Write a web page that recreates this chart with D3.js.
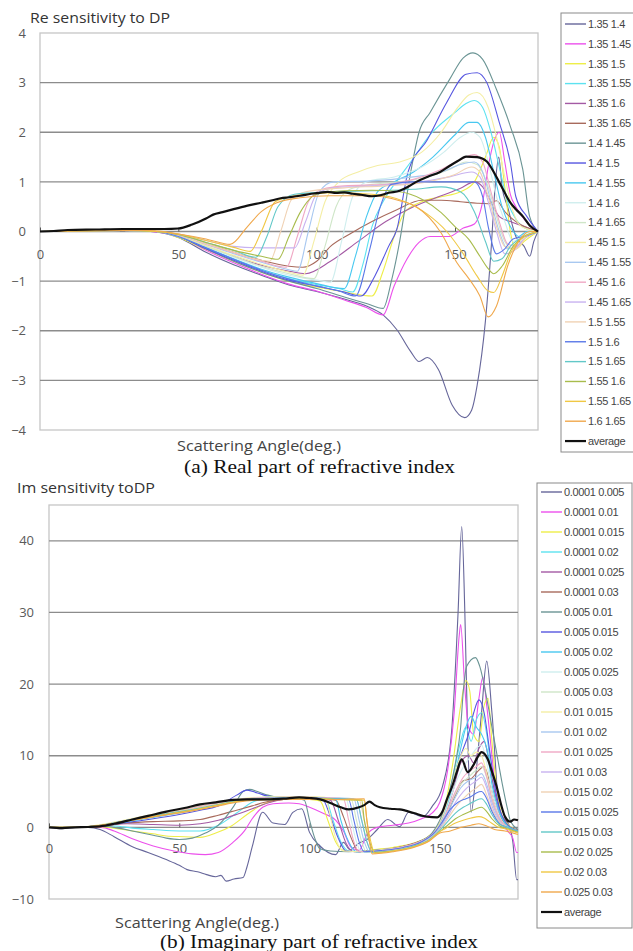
<!DOCTYPE html>
<html>
<head>
<meta charset="utf-8">
<script src="https://cdn.jsdelivr.net/npm/d3@7"></script>
<style>
  body { margin: 0; background: #fff; }
  svg { display: block; }
</style>
</head>
<body>
<svg id="chart" width="633" height="951"></svg>
<script>
// ---- shared x axis ----
const angleTicks = [0, 50, 100, 150];

// ---- series names ----
const reNames = ["1.35 1.4", "1.35 1.45", "1.35 1.5", "1.35 1.55", "1.35 1.6", "1.35 1.65",
  "1.4 1.45", "1.4 1.5", "1.4 1.55", "1.4 1.6", "1.4 1.65", "1.45 1.5", "1.45 1.55",
  "1.45 1.6", "1.45 1.65", "1.5 1.55", "1.5 1.6", "1.5 1.65", "1.55 1.6", "1.55 1.65",
  "1.6 1.65", "average"];
const imNames = ["0.0001 0.005", "0.0001 0.01", "0.0001 0.015", "0.0001 0.02", "0.0001 0.025",
  "0.0001 0.03", "0.005 0.01", "0.005 0.015", "0.005 0.02", "0.005 0.025", "0.005 0.03",
  "0.01 0.015", "0.01 0.02", "0.01 0.025", "0.01 0.03", "0.015 0.02", "0.015 0.025",
  "0.015 0.03", "0.02 0.025", "0.02 0.03", "0.025 0.03", "average"];

// line colours, one per series (last one = average)
const seriesColors = ["#66669a", "#ec50ec", "#eeee48", "#5ce2f0", "#a45aa4", "#a86a5c",
  "#6a9494", "#5656e0", "#48c8f0", "#cfeeee", "#cfe6c8", "#f4eea4", "#a8c8f0",
  "#f0a8c4", "#c8b2f0", "#f0d2b4", "#5a78e8", "#62c8c8", "#a8bc4c", "#f0c844",
  "#f0a84c", "#111111"];

// ---- y ticks ----
const reTicks = [-4, -3, -2, -1, 0, 1, 2, 3, 4];
const imTicks = [-10, 0, 10, 20, 30, 40];

// ---- Re sensitivity: [angle, value] ----
const re_135_14 = [[0,0],[30,0.02],[40,0],[50,-0.12],[60,-0.42],[70,-0.67],[80,-0.88],[90,-1.08],[100,-1.21],[110,-1.36],[118,-1.5],[124,-1.68],[129,-1.98],[134,-2.42],[137,-2.62],[140,-2.54],[144,-2.78],[149,-3.5],[153.5,-3.75],[156,-3.6],[158,-3.1],[161,-1.8],[163,-0.4],[164.5,0.9],[165.8,1.5],[167,0.9],[169,0.5],[172,-0.1],[175,-0.3],[177,-0.5],[178.5,-0.2],[180,0]];
const re_135_145 = [[0,0],[30,0.02],[40,0],[50,-0.1],[60,-0.38],[70,-0.63],[80,-0.86],[90,-1.06],[100,-1.2],[110,-1.38],[118,-1.53],[124,-1.68],[128,-1.1],[132.6,-0.56],[137,-0.22],[141,-0.1],[148,-0.1],[153,0.07],[157,0.15],[160,0.6],[162,1.3],[164,1.8],[166,2.0],[168,1.4],[170,0.75],[172,0.5],[175,0.25],[178,0.08],[180,0]];
const re_135_15 = [[0,0],[30,0.02],[42,0],[50,-0.12],[60,-0.36],[70,-0.6],[80,-0.82],[90,-1.0],[100,-1.12],[110,-1.22],[120,-1.3],[124,-0.8],[128,-0.1],[132,0.4],[138,0.6],[145,0.7],[152,0.8],[157,1.0],[161,1.5],[164,1.9],[166,1.7],[168,0.9],[170,0.0],[172,-0.35],[175,-0.2],[180,0]];
const re_135_155 = [[0,0],[30,0.02],[42,0],[50,-0.1],[60,-0.33],[70,-0.56],[80,-0.78],[90,-0.95],[100,-1.07],[108,-1.15],[113,-1.22],[117,-0.6],[120,0.1],[124,0.6],[130,1.1],[134,1.4],[141,1.95],[150,2.4],[154,2.58],[157,2.64],[160,2.5],[163,2.0],[166,1.3],[169,0.6],[172,0.25],[176,0.05],[180,0]];
const re_135_16 = [[0,0],[30,0.02],[42,0],[50,-0.1],[60,-0.3],[70,-0.5],[80,-0.68],[90,-0.8],[96,-0.85],[105,-0.6],[115,-0.2],[125,0.2],[135,0.5],[145,0.72],[152,0.87],[157,1.0],[160,0.9],[163,0.6],[166,0.3],[170,0.2],[175,0.1],[180,0]];
const re_135_165 = [[0,0],[30,0.02],[42,0],[50,-0.08],[60,-0.25],[70,-0.42],[80,-0.58],[90,-0.7],[95,-0.72],[100,-0.6],[105,-0.3],[112,-0.05],[120,0.2],[129,0.44],[138,0.63],[145,0.63],[152,0.6],[158,0.57],[162,0.56],[165,0.62],[168,0.4],[172,0.2],[176,0.08],[180,0]];
const re_14_145 = [[0,0],[30,0.02],[42,0],[50,-0.1],[60,-0.35],[70,-0.6],[80,-0.82],[90,-1.0],[100,-1.15],[110,-1.32],[118,-1.45],[124,-1.55],[127,-1.0],[130,-0.2],[134,1.2],[137,2.0],[141,2.4],[148,3.06],[153,3.5],[156.5,3.6],[160,3.47],[165,2.86],[170,2.12],[174.5,1.25],[177,0.3],[180,0]];
const re_14_15 = [[0,0],[30,0.02],[42,0],[50,-0.1],[60,-0.35],[70,-0.58],[80,-0.8],[90,-0.98],[100,-1.1],[110,-1.22],[116,-1.3],[121,-0.9],[126,-0.3],[129,0.05],[133,1.19],[140,1.85],[147,2.6],[154,3.17],[158,3.2],[161.5,3.0],[166,2.2],[170,1.39],[172,0.7],[176,0.3],[180,0]];
const re_14_155 = [[0,0],[30,0.02],[42,0],[50,-0.1],[60,-0.32],[70,-0.55],[80,-0.76],[90,-0.92],[100,-1.05],[110,-1.15],[114,-0.5],[118,0.3],[122,0.8],[128,1.0],[135,1.2],[142,1.5],[150,1.95],[155,2.2],[158,2.2],[161,1.9],[164,1.2],[167,0.5],[170,0.1],[173,-0.1],[176,0.0],[180,0]];
const re_14_16 = [[0,0],[30,0.02],[42,0],[50,-0.1],[60,-0.3],[70,-0.52],[80,-0.72],[90,-0.88],[100,-0.98],[105,-1.02],[109,-0.2],[113,0.7],[118,1.0],[128,1.1],[138,1.3],[146,1.6],[152,1.9],[156,2.0],[159,1.9],[162,1.4],[165,0.7],[168,0.2],[171,-0.2],[174,-0.1],[180,0]];
const re_14_165 = [[0,0],[30,0.02],[42,0],[50,-0.08],[60,-0.3],[70,-0.5],[80,-0.7],[90,-0.85],[99,-0.95],[103,-0.3],[107,0.5],[112,0.85],[120,0.95],[130,1.0],[140,1.1],[148,1.25],[154,1.4],[158,1.35],[162,0.9],[165,0.3],[168,-0.2],[171,-0.35],[175,-0.15],[180,0]];
const re_145_15 = [[0,0],[30,0.02],[42,0],[50,-0.08],[60,-0.28],[70,-0.48],[80,-0.66],[90,-0.82],[95,-0.88],[99,-0.2],[103,0.6],[108,1.0],[115,1.2],[122,1.33],[130,1.4],[138,1.6],[145,2.0],[151,2.5],[155,2.75],[158,2.8],[162,2.5],[165,1.9],[168,1.1],[171,0.4],[174,0.1],[180,0]];
const re_145_155 = [[0,0],[30,0.02],[42,0],[50,-0.07],[60,-0.26],[70,-0.45],[80,-0.62],[90,-0.77],[93,-0.8],[97,0.0],[101,0.8],[106,1.0],[120,1.02],[135,1.1],[145,1.2],[152,1.35],[157,1.4],[160,1.2],[163,0.6],[166,0.0],[169,-0.35],[172,-0.3],[176,-0.1],[180,0]];
const re_145_16 = [[0,0],[30,0.02],[42,0],[50,-0.07],[60,-0.25],[70,-0.43],[80,-0.6],[89,-0.72],[93,-0.1],[97,0.6],[102,0.85],[110,0.92],[125,0.95],[135,1.05],[145,1.25],[152,1.45],[157,1.55],[160,1.4],[163,0.8],[166,0.2],[169,-0.25],[172,-0.3],[176,-0.1],[180,0]];
const re_145_165 = [[0,0],[30,0.02],[42,0],[50,-0.05],[60,-0.18],[70,-0.3],[80,-0.33],[92,-0.33],[96,0.2],[100,0.75],[106,0.88],[120,0.92],[135,0.98],[148,1.1],[156,1.2],[159,1.1],[162,0.6],[165,0.0],[168,-0.45],[171,-0.4],[175,-0.15],[180,0]];
const re_15_155 = [[0,0],[30,0.02],[42,0],[50,-0.07],[60,-0.25],[70,-0.42],[80,-0.58],[83,-0.6],[87,0.0],[91,0.65],[96,0.8],[110,0.88],[125,0.92],[140,1.0],[150,1.15],[156,1.3],[159,1.2],[162,0.7],[165,0.1],[168,-0.3],[172,-0.35],[176,-0.1],[180,0]];
const re_15_16 = [[0,0],[30,0.02],[42,0],[50,-0.1],[60,-0.33],[70,-0.56],[80,-0.78],[90,-0.96],[100,-1.1],[108,-1.2],[114,-1.3],[119,-0.4],[123,0.5],[127,0.95],[135,1.0],[150,1.0],[157,1.0],[160,0.7],[162,0.1],[165,-0.45],[168,-0.35],[171,-0.15],[175,-0.1],[180,0]];
const re_15_165 = [[0,0],[30,0.02],[42,0],[50,-0.06],[60,-0.22],[70,-0.38],[78,-0.52],[82,-0.1],[86,0.5],[92,0.75],[105,0.8],[120,0.82],[135,0.85],[145,0.9],[152,0.8],[157,0.4],[161,-0.2],[164,-0.6],[167,-0.55],[170,-0.3],[175,-0.1],[180,0]];
const re_155_16 = [[0,0],[30,0.02],[42,0],[50,-0.06],[60,-0.22],[70,-0.38],[80,-0.5],[86,-0.56],[90,-0.1],[94,0.38],[100,0.75],[110,0.82],[120,0.83],[130,0.8],[138,0.65],[145,0.38],[150,0.1],[155,-0.16],[159,-0.5],[162,-0.75],[164,-0.85],[167,-0.7],[171,-0.3],[175,-0.1],[180,0]];
const re_155_165 = [[0,0],[30,0.02],[42,0],[50,-0.05],[60,-0.18],[70,-0.32],[76,-0.4],[80,0.0],[85,0.6],[92,0.72],[105,0.78],[120,0.75],[132,0.6],[140,0.35],[147,0.0],[153,-0.45],[158,-0.9],[162,-1.2],[164,-1.23],[167,-0.9],[170,-0.45],[174,-0.15],[180,0]];
const re_16_165 = [[0,0],[30,0.02],[40,0.02],[50,-0.05],[60,-0.15],[68.7,-0.26],[75,0.1],[80,0.4],[85.6,0.58],[94,0.68],[105,0.72],[120,0.72],[130,0.62],[136,0.5],[145,-0.03],[150.7,-0.63],[155,-0.95],[159,-1.3],[162,-1.72],[165,-1.5],[169,-0.7],[173.5,-0.16],[177,0.0],[180,0]];
const re_average = [[0,0],[5,0.01],[10,0.03],[20,0.04],[30,0.05],[40,0.05],[45,0.05],[50,0.06],[55,0.14],[60,0.26],[62.6,0.34],[66,0.39],[70,0.45],[75,0.52],[80,0.58],[84,0.63],[87,0.67],[90,0.69],[94,0.72],[98,0.76],[101,0.78],[104,0.8],[107,0.78],[110,0.79],[113,0.76],[116,0.74],[120,0.71],[123,0.73],[126,0.78],[130,0.82],[133,0.9],[136,1.0],[140,1.1],[144.6,1.2],[148,1.32],[151,1.42],[154,1.51],[158,1.5],[161.5,1.41],[164,1.2],[166,0.99],[168,0.78],[170,0.58],[172,0.45],[174.6,0.3],[177,0.12],[180,0]];

const reSeries = [re_135_14, re_135_145, re_135_15, re_135_155, re_135_16, re_135_165,
  re_14_145, re_14_15, re_14_155, re_14_16, re_14_165, re_145_15, re_145_155, re_145_16,
  re_145_165, re_15_155, re_15_16, re_15_165, re_155_16, re_155_165, re_16_165, re_average];

// ---- Im sensitivity: [angle, value] ----
const im_00001_0005 = [[0,0],[5,-0.2],[10,0],[15,0],[19.6,-0.3],[25,-1.3],[32,-2.7],[38,-3.5],[45,-4.5],[50,-5.3],[53,-5.9],[57,-6.2],[60.5,-6.6],[64,-6.9],[66,-6.7],[68,-7.5],[71,-7.2],[74.5,-7.0],[76,-5.5],[78,-2.7],[82,2.1],[86,0.6],[90.5,0.4],[93.6,2.1],[97,2.6],[100,-0.7],[104,-2.6],[110,-3.8],[113,-2.1],[115.5,-3.1],[119,-2.2],[122,-1.7],[126,-0.3],[130,1.1],[134.6,0.1],[138,2.1],[143.5,1.5],[147,2.9],[151,5.7],[154.5,13.3],[157,30],[158.4,42],[159.6,30],[160.8,11.3],[162,2.1],[164,8],[166,16],[168,23.2],[170,16],[173,2.1],[176.8,0.1],[178,-2],[179.5,-7.3],[180,-7.3]];
const im_00001_001 = [[0,0],[10,0],[20,0],[25,-0.5],[32,-1.6],[40,-2.6],[48,-3.3],[55,-3.7],[60,-3.8],[65,-3.5],[70.6,-2.1],[75,-0.5],[78,1.2],[82,2.8],[86,3.3],[92,3.4],[96,3.3],[100,2.8],[105,2.0],[110,1.0],[113,-0.5],[116,-2.8],[119,-3.2],[122,-1.0],[126,0.0],[132,0.3],[138,0.6],[143,1.2],[147,2.0],[150,3.5],[153,8],[155.5,16],[157.5,27],[158,28.3],[159.5,20],[161,14],[163,13],[165,18],[166.5,21],[168,17],[170,10],[172,3],[174,0.5],[176,-0.5],[178,-1.5],[179.5,-3.5],[180,-3.5]];
const im_00001_0015 = [[0,0],[10,0],[20,0.1],[25,-0.1],[32,-0.5],[40,-0.9],[45,-1.2],[52,-1.3],[58,-1.4],[64,-0.8],[70,0.2],[76,1.8],[82,3.2],[88,3.8],[95,4.0],[100,3.9],[104,3.7],[107,1.0],[110,-2.0],[113,-3.2],[118,-3.4],[125,-3.1],[132,-2.8],[140,-2.2],[145,-1.4],[149,0.0],[152,3.0],[155,9],[158,17],[160,20.5],[161.5,19],[163,13],[165,12],[167,17],[168.5,18],[170,12],[172,5],[174,1.5],[176,0.5],[180,-0.5]];
const im_00001_002 = [[0,0],[10,0],[20,0.2],[25,0.2],[32,-0.1],[40,-0.3],[50,-0.5],[58,-0.5],[65,0.3],[72,2.0],[78,3.5],[84,4.1],[92,4.3],[100,4.2],[106,4.0],[109,1.0],[112,-2.0],[115,-3.3],[122,-3.5],[130,-3.1],[138,-2.6],[144,-1.8],[149,-0.2],[152,2.5],[155,7],[158,12],[160,14],[162,12],[164,15],[166,16],[168,13],[170,7],[173,2],[176,0],[180,-0.5]];
const im_00001_0025 = [[0,0],[10,0],[20,0.2],[30,0.5],[40,0.4],[50,0.3],[58,0.5],[65,1.0],[72,1.8],[78,2.6],[84,3.4],[90,3.9],[98,4.1],[104,4.0],[108,3.8],[111,1.0],[114,-2.2],[117,-3.4],[125,-3.3],[133,-2.9],[140,-2.3],[145,-1.6],[149,-0.3],[152,1.8],[155,5],[158,9],[161,10],[163,9],[165,11],[167,12],[169,9],[171,5],[174,1.5],[177,0],[180,-0.5]];
const im_00001_003 = [[0,0],[10,0],[20,0.2],[30,0.6],[40,0.8],[50,0.9],[58,1.1],[65,1.7],[72,2.4],[78,3.0],[84,3.6],[90,3.9],[98,4.0],[106,3.9],[110,3.8],[113,1.5],[116,-1.5],[119,-3.4],[126,-3.2],[134,-2.8],[141,-2.1],[146,-1.3],[150,0.0],[153,2.0],[156,4.5],[159,6.5],[162,6.8],[165,8],[167,8.5],[169,6.5],[171,3.5],[174,1.0],[177,0],[180,-0.3]];
const im_0005_001 = [[0,0],[10,0],[20,0.2],[25,0.0],[32,-0.5],[40,-1.1],[45,-1.5],[50,-1.7],[55,-1.5],[60,-0.8],[65,0.3],[68,1.5],[71,3.0],[74.5,5.0],[77,5.3],[80,5.0],[84,4.5],[88,4.2],[94,4.1],[98,3.8],[100,1.0],[102,-1.5],[104,-3.0],[108,-3.3],[115,-3.4],[125,-3.2],[135,-2.8],[142,-2.0],[147,-0.8],[150,1.0],[153,4],[156,9],[158,14],[159,19],[160.3,22.5],[163.7,23.7],[165.3,22.5],[168,18],[170,14],[172,10],[174,6],[176,2.5],[177,1],[180,-0.3]];
const im_0005_0015 = [[0,0],[10,0],[20,0.3],[30,0.7],[40,1.2],[50,1.8],[58,2.4],[65,3.0],[72,4.5],[76,5.2],[80,4.8],[85,4.3],[92,4.2],[100,4.1],[105,3.9],[108,1.5],[111,-1.5],[114,-3.3],[120,-3.4],[128,-3.1],[136,-2.7],[143,-1.9],[148,-0.6],[151,1.5],[154,5],[157,9],[159,11],[161,13],[163,16],[165,17.8],[167,16],[169,11],[171,6],[173,2.5],[176,0.3],[180,-0.5]];
const im_0005_002 = [[0,0],[10,0],[20,0.3],[30,0.8],[40,1.4],[50,2.0],[58,2.6],[65,3.1],[72,3.7],[80,4.1],[88,4.3],[95,4.3],[103,4.1],[110,4.0],[112,1.0],[115,-2.0],[118,-3.4],[125,-3.4],[133,-3.0],[140,-2.4],[145,-1.6],[149,-0.3],[152,2],[155,6],[158,11],[160,14],[162,15.5],[164,14],[166,13],[168,11],[170,6],[173,2],[176,0.2],[180,-0.5]];
const im_0005_0025 = [[0,0],[10,0],[20,0.3],[30,1.0],[40,1.6],[50,2.2],[58,2.8],[65,3.3],[72,3.8],[80,4.1],[90,4.2],[100,4.2],[110,4.1],[114,4.0],[116,1.0],[118,-2.0],[120,-3.5],[128,-3.3],[136,-2.9],[143,-2.1],[148,-0.9],[151,1],[154,4],[157,7],[160,9],[162,10],[164,11],[166,11.5],[168,9],[170,5],[173,1.5],[176,0],[180,-0.5]];
const im_0005_003 = [[0,0],[10,0],[20,0.3],[30,0.9],[40,1.5],[50,2.1],[58,2.7],[65,3.2],[72,3.7],[80,4.0],[90,4.1],[100,4.1],[110,4.0],[116,3.9],[118,1.0],[120,-2.0],[122,-3.5],[130,-3.2],[138,-2.7],[145,-1.8],[149,-0.5],[152,1.5],[155,4],[158,6],[161,7],[164,8],[166,8.5],[168,7],[170,4],[173,1],[176,0],[180,-0.5]];
const im_001_0015 = [[0,0],[10,0],[20,0.4],[30,1.1],[40,1.8],[50,2.4],[58,3.0],[65,3.5],[72,3.9],[80,4.2],[90,4.3],[100,4.3],[106,4.2],[108,1.5],[110,-1.5],[113,-3.3],[120,-3.4],[128,-3.1],[136,-2.7],[143,-1.9],[148,-0.6],[151,1.5],[154,5],[157,9],[160,11],[162,10],[164,10.5],[166,10],[168,7.5],[170,4],[173,1.2],[176,0],[180,-0.5]];
const im_001_002 = [[0,0],[10,0],[20,0.3],[30,1.0],[40,1.7],[50,2.3],[58,2.9],[65,3.4],[72,3.8],[80,4.1],[90,4.2],[100,4.2],[110,4.1],[117,4.0],[119,1.0],[121,-2.0],[123,-3.4],[130,-3.2],[138,-2.7],[145,-1.8],[149,-0.5],[152,1.2],[155,3.5],[158,5.5],[161,6.5],[164,7],[166,7.5],[168,6],[170,3.5],[173,1],[176,0],[180,-0.5]];
const im_001_0025 = [[0,0],[10,0],[20,0.3],[30,1.0],[40,1.7],[50,2.3],[58,2.9],[65,3.4],[72,3.8],[80,4.1],[90,4.2],[100,4.2],[108,4.1],[113,4.0],[115,1.0],[117,-2.0],[119,-3.4],[126,-3.3],[134,-2.9],[141,-2.2],[146,-1.3],[150,0.2],[153,2.5],[156,5],[159,7],[162,8],[164,8.5],[166,9],[168,7],[170,4],[173,1.2],[176,0],[180,-0.5]];
const im_001_003 = [[0,0],[10,0],[20,0.3],[30,0.9],[40,1.5],[50,2.1],[58,2.7],[65,3.2],[72,3.7],[80,4.0],[90,4.1],[100,4.1],[110,4.0],[118,3.9],[120,1.0],[122,-2.0],[124,-3.5],[131,-3.2],[139,-2.6],[146,-1.6],[150,-0.3],[153,1.5],[156,3.5],[159,5],[162,6],[164,6.5],[166,7],[168,5.5],[170,3],[173,0.8],[176,0],[180,-0.5]];
const im_0015_002 = [[0,0],[10,0],[20,0.3],[30,1.0],[40,1.7],[50,2.3],[58,2.8],[65,3.3],[72,3.7],[80,4.0],[90,4.1],[100,4.1],[110,4.0],[119,3.9],[121,1.0],[123,-2.0],[125,-3.5],[132,-3.2],[140,-2.6],[146,-1.6],[150,-0.3],[153,1.2],[156,2.8],[159,4],[162,5],[164,5.5],[166,6],[168,4.5],[170,2.5],[173,0.7],[176,0],[180,-0.5]];
const im_0015_0025 = [[0,0],[10,0],[20,0.3],[30,0.9],[40,1.5],[50,2.1],[58,2.6],[65,3.1],[72,3.6],[80,4.0],[90,4.1],[100,4.1],[110,4.0],[115,3.9],[117,1.0],[119,-2.0],[121,-3.4],[128,-3.2],[136,-2.8],[143,-2.0],[148,-0.7],[151,0.8],[154,2.5],[157,3.5],[160,4],[162,4.3],[164,4.8],[166,5],[168,4],[170,2.2],[173,0.5],[176,0],[180,-0.5]];
const im_0015_003 = [[0,0],[10,0],[20,0.3],[30,1.0],[40,1.6],[50,2.2],[58,2.7],[65,3.2],[72,3.7],[80,4.0],[90,4.1],[100,4.1],[110,4.0],[118,3.9],[120,1.0],[122,-2.0],[124,-3.5],[131,-3.3],[139,-2.7],[146,-1.7],[150,-0.4],[153,0.8],[156,2],[159,2.8],[162,3.4],[164,3.8],[166,4],[168,3.2],[170,1.8],[173,0.4],[176,0],[180,-0.5]];
const im_002_0025 = [[0,0],[10,0],[20,0.3],[30,0.9],[40,1.5],[50,2.1],[58,2.6],[65,3.1],[72,3.6],[80,3.9],[90,4.0],[100,4.0],[110,3.9],[120,3.8],[121,1.0],[123,-2.0],[125,-3.5],[132,-3.3],[140,-2.7],[146,-1.8],[150,-0.6],[153,0.3],[156,1.2],[159,1.8],[162,2.3],[164,2.6],[166,2.8],[168,2.2],[170,1.2],[173,0.2],[176,-0.2],[180,-0.7]];
const im_002_003 = [[0,0],[10,0],[20,0.3],[30,0.9],[40,1.5],[50,2.1],[58,2.6],[65,3.1],[72,3.6],[80,3.9],[90,4.0],[100,4.0],[110,3.9],[121,3.8],[122,1.0],[123.5,-2.0],[125,-3.6],[132,-3.3],[140,-2.7],[146,-1.8],[150,-0.6],[153,0.0],[156,0.6],[159,1.0],[162,1.3],[165,1.5],[167,1.3],[169,0.8],[172,0.1],[176,-0.3],[180,-0.8]];
const im_0025_003 = [[0,0],[10,0],[20,0.3],[30,0.9],[40,1.5],[50,2.0],[58,2.5],[65,3.0],[72,3.5],[80,3.8],[90,3.9],[100,3.9],[110,3.9],[121,4.0],[122,1.0],[123,-2.0],[124,-3.7],[132,-3.4],[140,-2.8],[146,-1.9],[150,-0.8],[154,-0.5],[158,0.0],[162,0.3],[165,0.5],[168,0.2],[171,-0.3],[175,-0.5],[180,-1.0]];
const im_average = [[0,0],[5,-0.1],[10,0.0],[15,0.05],[19.6,0.15],[25,0.5],[32,1.1],[38,1.6],[45,2.2],[52,2.7],[58,3.2],[64,3.5],[70.6,3.85],[76,3.9],[83.6,3.9],[90,4.0],[96,4.2],[100,4.1],[104,3.9],[108,3.4],[112,2.8],[115,2.5],[119,2.8],[121,3.1],[123,3.6],[125,3.1],[127,2.8],[131,2.6],[134.6,2.5],[140,2.0],[145,1.5],[149,1.4],[151,2.2],[152.7,3.9],[155,6],[156.5,7.7],[158.4,9.5],[160.7,7.7],[162.6,8.5],[164.5,9.8],[166,10.5],[168.4,9.5],[170,7.8],[171.8,5.7],[173.5,3.2],[175,1.5],[177,0.8],[178.5,1.1],[180,1.0]];

const imSeries = [im_00001_0005, im_00001_001, im_00001_0015, im_00001_002, im_00001_0025,
  im_00001_003, im_0005_001, im_0005_0015, im_0005_002, im_0005_0025, im_0005_003,
  im_001_0015, im_001_002, im_001_0025, im_001_003, im_0015_002, im_0015_0025,
  im_0015_003, im_002_0025, im_002_003, im_0025_003, im_average];

const svg = d3.select("#chart");
const sansFont = "'Open Sans', 'Noto Sans', sans-serif";

function drawPanel(p) {
  const g = svg.append("g");
  const x = d3.scaleLinear().domain([0, 180]).range([p.left, p.right]);
  const yTop = p.yMax !== undefined ? p.yMax : p.ticks[p.ticks.length - 1];
  const y = d3.scaleLinear().domain([p.ticks[0], yTop]).range([p.bottom, p.top]);

  // plot frame
  g.append("rect")
    .attr("x", p.left).attr("y", p.top)
    .attr("width", p.right - p.left).attr("height", p.bottom - p.top)
    .attr("fill", "none").attr("stroke", "#c6c6c6").attr("stroke-width", 1.3);

  // horizontal gridlines
  g.append("g").selectAll("line")
    .data(p.ticks.filter(t => t > p.ticks[0] && t < yTop))
    .join("line")
    .attr("x1", p.left).attr("x2", p.right)
    .attr("y1", d => y(d)).attr("y2", d => y(d))
    .attr("stroke", "#8c8c8c").attr("stroke-width", 1.3);

  // y axis labels
  const yAxis = g.append("g")
    .attr("transform", `translate(${p.yLabelX},0)`)
    .call(d3.axisLeft(y).tickValues(p.ticks).tickSize(0).tickPadding(0));
  yAxis.select(".domain").remove();
  yAxis.selectAll("text")
    .attr("font-family", sansFont).attr("font-size", 13).attr("fill", "#5a5a5a");

  // x axis through zero, short ticks pointing up, labels below
  const xAxis = g.append("g")
    .attr("transform", `translate(0,${y(0)})`)
    .call(d3.axisBottom(x).tickValues(angleTicks).tickSizeInner(-4).tickSizeOuter(0).tickPadding(p.xLabelPad));
  xAxis.select(".domain").remove();
  xAxis.selectAll(".tick line").attr("stroke", "#555");
  xAxis.selectAll("text")
    .attr("font-family", sansFont).attr("font-size", 13).attr("fill", "#5a5a5a");

  // series lines
  const line = d3.line()
    .x(d => x(d[0])).y(d => y(d[1]))
    .curve(d3.curveMonotoneX);
  const clipId = "clip" + p.id;
  svg.append("clipPath").attr("id", clipId).append("rect")
    .attr("x", p.left).attr("y", p.top - 2)
    .attr("width", p.right - p.left + 2).attr("height", p.bottom - p.top + 4);
  g.append("g").attr("clip-path", `url(#${clipId})`)
    .selectAll("path")
    .data(p.series)
    .join("path")
    .attr("d", d => line(d))
    .attr("fill", "none")
    .attr("stroke", (d, i) => seriesColors[i])
    .attr("stroke-width", (d, i) => i === p.series.length - 1 ? 2.2 : 1.1)
    .attr("stroke-linejoin", "round");

  // titles
  g.append("text")
    .attr("x", p.titleX).attr("y", p.titleY)
    .attr("font-family", sansFont).attr("font-size", 15).attr("fill", "#333")
    .attr("textLength", p.titleW).attr("lengthAdjust", "spacingAndGlyphs")
    .text(p.title);
  g.append("text")
    .attr("x", p.xTitleX).attr("y", p.xTitleY)
    .attr("font-family", sansFont).attr("font-size", 15).attr("fill", "#444")
    .attr("textLength", 164).attr("lengthAdjust", "spacingAndGlyphs")
    .text("Scattering Angle(deg.)");
  g.append("text")
    .attr("x", p.capX).attr("y", p.capY)
    .attr("font-family", "'Liberation Serif', 'Times New Roman', serif")
    .attr("font-size", 19).attr("fill", "#111")
    .attr("textLength", p.capW).attr("lengthAdjust", "spacingAndGlyphs")
    .text(p.caption);

  // legend
  const lg = g.append("g");
  lg.append("rect")
    .attr("x", p.legX).attr("y", p.legTop)
    .attr("width", p.legW).attr("height", p.legBottom - p.legTop)
    .attr("fill", "#fff").attr("stroke", "#8a8a8a").attr("stroke-width", 1);
  const items = lg.selectAll("g.item")
    .data(p.names)
    .join("g")
    .attr("class", "item")
    .attr("transform", (d, i) => `translate(0,${p.legY0 + i * p.legStep})`);
  items.append("line")
    .attr("x1", p.legLineX).attr("x2", p.legLineX + 21)
    .attr("stroke", (d, i) => seriesColors[i])
    .attr("stroke-width", (d, i) => i === p.names.length - 1 ? 2.2 : 1.4);
  items.append("text")
    .attr("x", p.legLineX + 23).attr("y", 0)
    .attr("dy", "0.35em")
    .attr("font-family", "'Liberation Sans', Arial, sans-serif")
    .attr("font-size", 11).attr("letter-spacing", "-0.35px")
    .attr("fill", "#444")
    .text(d => d);
}

drawPanel({
  id: "re", series: reSeries, names: reNames, ticks: reTicks,
  left: 40, right: 538, top: 33, bottom: 430,
  yLabelX: 26, xLabelPad: 18,
  title: "Re sensitivity to DP", titleX: 30, titleY: 23, titleW: 140,
  xTitleX: 177, xTitleY: 451,
  caption: "(a) Real part of refractive index", capX: 184, capY: 473, capW: 271,
  legX: 561, legTop: 13, legBottom: 452, legW: 80,
  legLineX: 565, legY0: 24, legStep: 19.86
});

drawPanel({
  id: "im", series: imSeries, names: imNames, ticks: imTicks, yMax: 45,
  left: 49, right: 518, top: 505, bottom: 899,
  yLabelX: 34, xLabelPad: 16,
  title: "Im sensitivity toDP", titleX: 17, titleY: 493, titleW: 138,
  xTitleX: 115, xTitleY: 928,
  caption: "(b) Imaginary part of refractive index", capX: 160, capY: 948, capW: 318,
  legX: 537, legTop: 483, legBottom: 928, legW: 95,
  legLineX: 541, legY0: 492, legStep: 20
});
</script>
</body>
</html>
